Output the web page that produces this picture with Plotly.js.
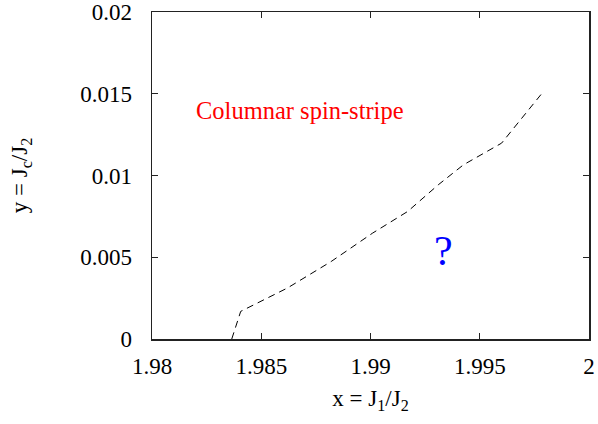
<!DOCTYPE html>
<html>
<head>
<meta charset="utf-8">
<script src="https://cdn.plot.ly/plotly-3.0.1.min.js"></script>
<style>html,body{margin:0;padding:0;background:#fff;}#chart{width:598px;height:424px;}</style>
</head>
<body>
<div id="chart"></div>
<script>
// Phase boundary data
const boundaryX = [1.98365, 1.98406, 1.9862, 1.9882, 1.9901, 1.9917, 1.9931, 1.99425, 1.9960, 1.99791];
const boundaryY = [0, 0.00169, 0.00312, 0.00474, 0.00648, 0.00780, 0.00943, 0.01065, 0.01198, 0.01513];

const xTickVals = [1.98, 1.985, 1.99, 1.995, 2.0];
const xTickText = ["1.98", "1.985", "1.99", "1.995", "2"];
const yTickVals = [0, 0.005, 0.01, 0.015, 0.02];
const yTickText = ["0", "0.005", "0.01", "0.015", "0.02"];

const labelPhase = "Columnar spin-stripe";
const labelUnknown = "?";

const serif = "Liberation Serif";

const trace = {
  x: boundaryX, y: boundaryY,
  type: "scatter", mode: "lines",
  line: {color: "#000", width: 1, dash: "7px,5px"},
  hoverinfo: "none"
};

const axisCommon = {
  showgrid: false, zeroline: false,
  showline: true, linecolor: "#222", linewidth: 1.5,
  mirror: "allticks", ticks: "inside", ticklen: 6, tickwidth: 1, tickcolor: "#222",
  tickfont: {family: serif, size: 23, color: "#000"},
  tickmode: "array"
};

const layout = {
  width: 598, height: 424,
  margin: {l: 152, r: 9, t: 12, b: 85},
  paper_bgcolor: "#fff", plot_bgcolor: "#fff",
  font: {family: serif},
  showlegend: false,
  xaxis: Object.assign({}, axisCommon, {
    range: [1.98, 2.0], tickvals: xTickVals, ticktext: xTickText,
    ticklabelstandoff: 6,
    title: {text: "x = J<sub>1</sub>/J<sub>2</sub>", font: {family: serif, size: 23, color: "#000"}, standoff: 12}
  }),
  yaxis: Object.assign({}, axisCommon, {
    range: [0, 0.02], tickvals: yTickVals, ticktext: yTickText,
    ticklabelstandoff: 14,
    title: {text: "y = J<sub>c</sub>/J<sub>2</sub>", font: {family: serif, size: 23, color: "#000"}, standoff: 46}
  }),
  annotations: [
    {x: 1.98677, y: 0.01395, xref: "x", yref: "y", text: labelPhase, showarrow: false,
     font: {family: serif, size: 24.5, color: "#ff0000"}, xanchor: "center", yanchor: "middle"},
    {x: 1.99332, y: 0.0054, xref: "x", yref: "y", text: labelUnknown, showarrow: false,
     font: {family: serif, size: 42, color: "#0000ff"}, xanchor: "center", yanchor: "middle"}
  ]
};

Plotly.newPlot("chart", [trace], layout, {staticPlot: true, displayModeBar: false});
</script>
</body>
</html>
